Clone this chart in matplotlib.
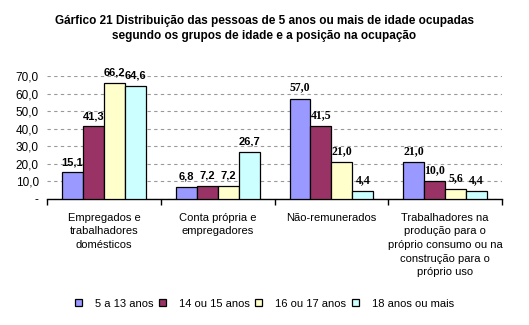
import numpy as np
import matplotlib.pyplot as plt

plt.rcParams["font.family"] = "Liberation Sans"

categorias = ["Empregados e\ntrabalhadores\ndomésticos",
              "Conta própria e\nempregadores",
              "Não-remunerados",
              "Trabalhadores na\nprodução para o\npróprio consumo ou na\nconstrução para o\npróprio uso"]
grupos = ["5 a 13 anos", "14 ou 15 anos", "16 ou 17 anos", "18 anos ou mais"]
valores = [
    [15.1, 6.8, 57.0, 21.0],
    [41.3, 7.2, 41.5, 10.0],
    [66.2, 7.2, 21.0, 5.6],
    [64.6, 26.7, 4.4, 4.4],
]
cores = ["#9999FF", "#993366", "#FFFFCC", "#CCFFFF"]
yticks = [0, 10, 20, 30, 40, 50, 60, 70]

fig = plt.figure(figsize=(5.29, 3.25), dpi=100)
ax = fig.add_axes([0.089, 0.388, 0.860, 0.378])

x = np.arange(len(categorias))
w = 0.184
for i, (g, v, c) in enumerate(zip(grupos, valores, cores)):
    pos = x + (i - 1.5) * w
    ax.bar(pos, v, width=w, color=c, edgecolor="black", linewidth=0.9,
           label=g, zorder=3)
    for j, (p, val) in enumerate(zip(pos, v)):
        fam = "Liberation Serif" if j >= 2 else "Liberation Sans"
        fs = 8.5 if j >= 2 else 8
        ax.text(p, val + 3, f"{val:.1f}".replace(".", ","), ha="center",
                va="bottom", fontsize=fs, fontweight="bold", family=fam,
                clip_on=False)

ax.set_xlim(-0.5, len(categorias) - 0.5)
ax.set_ylim(0, 70)
ax.set_yticks(yticks)
ax.set_yticklabels(["-"] + [f"{t:.1f}".replace(".", ",") for t in yticks[1:]],
                   fontsize=8.5)
ax.yaxis.grid(True, linestyle=(0, (3, 3)), color="#999999", linewidth=0.8,
              zorder=0)
ax.tick_params(axis="y", length=0, pad=6)

ax.set_xticks(x)
ax.set_xticklabels(categorias, fontsize=8, va="top", linespacing=1.45)
ax.tick_params(axis="x", length=0, pad=10)
ax.set_xticks(np.arange(len(categorias) + 1) - 0.5, minor=True)
ax.tick_params(axis="x", which="minor", length=4, direction="out", width=1)

for s in ["top", "right", "left"]:
    ax.spines[s].set_visible(False)
ax.spines["bottom"].set_linewidth(1)

fig.text(0.5, 0.955, "Gárfico 21 Distribuição das pessoas de 5 anos ou mais de idade ocupadas\n"
         "segundo os grupos de idade e a posição na ocupação",
         ha="center", va="top", fontsize=8.5, fontweight="bold", linespacing=1.35)

fig.legend(loc="center", bbox_to_anchor=(0.5, 0.065), ncol=4, fontsize=8,
           frameon=False, handlelength=0.6, handleheight=0.6,
           columnspacing=0.5, handletextpad=1.2)

fig.savefig("out.png", dpi=100)
